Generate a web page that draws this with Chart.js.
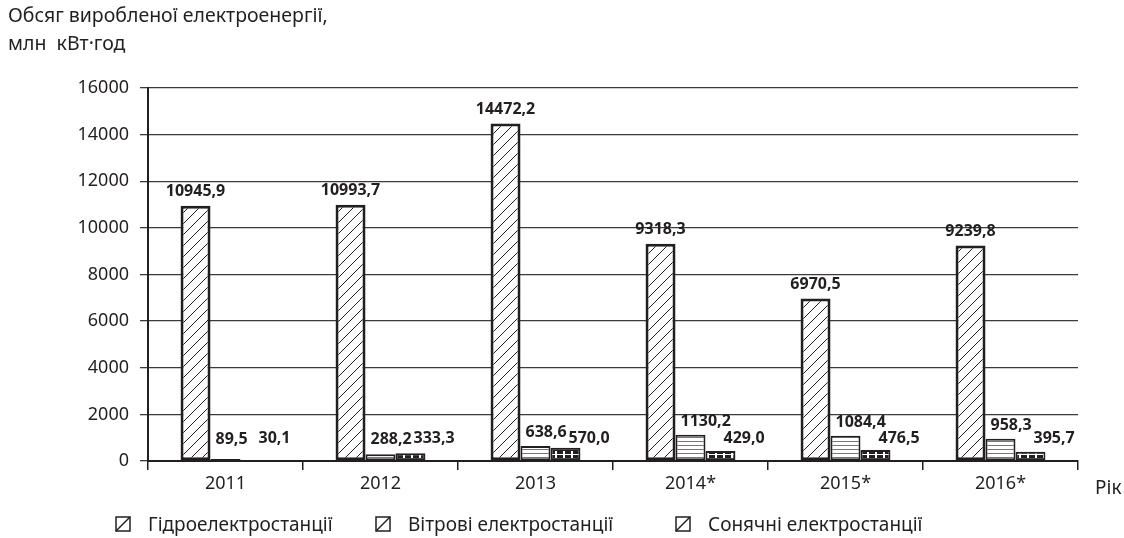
<!DOCTYPE html>
<html>
<head>
<meta charset="utf-8">
<script src="https://cdn.jsdelivr.net/npm/chart.js@4/dist/chart.umd.min.js"></script>
<style>
  body { margin: 0; background: #fff; }
  canvas { display: block; }
</style>
</head>
<body>
<canvas id="energyChart" width="1124" height="538"></canvas>
<script>
// values
var years = ['2011', '2012', '2013', '2014*', '2015*', '2016*'];
var hydro = [10945.9, 10993.7, 14472.2, 9318.3, 6970.5, 9239.8];
var wind = [89.5, 288.2, 638.6, 1130.2, 1084.4, 958.3];
var solar = [30.1, 333.3, 570.0, 429.0, 476.5, 395.7];
var seriesNames = ['Гідроелектростанції', 'Вітрові електростанції', 'Сонячні електростанції'];
var titleLines = ['Обсяг виробленої електроенергії,', 'млн  кВт·год'];
var axisName = 'Рік';

var FONT = '"Noto Sans", sans-serif';
var INK = '#231f20';

function tile(w, h, paint) {
    var c = document.createElement('canvas');
    c.width = w; c.height = h;
    paint(c.getContext('2d'));
    return document.createElement('canvas').getContext('2d').createPattern(c, 'repeat');
}

// diagonal hatch
var hatchFill = tile(11, 11, function (g) {
    g.fillStyle = '#fff'; g.fillRect(0, 0, 11, 11);
    g.strokeStyle = INK; g.lineWidth = 1;
    g.beginPath();
    g.moveTo(-1, 12); g.lineTo(12, -1);
    g.moveTo(-1, 1); g.lineTo(1, -1);
    g.moveTo(10, 12); g.lineTo(12, 10);
    g.stroke();
});

// horizontal lines
var stripeFill = tile(4, 4, function (g) {
    g.fillStyle = '#fff'; g.fillRect(0, 0, 4, 4);
    g.fillStyle = '#777'; g.fillRect(0, 1, 4, 1);
});

// black with white crosses
var crossFill = tile(8, 14, function (g) {
    g.fillStyle = INK; g.fillRect(0, 0, 8, 14);
    g.fillStyle = '#fff';
    g.fillRect(0, 6, 8, 1);
    g.fillRect(3, 3, 2, 7);
});

function fmt(v) {
    return v.toFixed(1).replace('.', ',');
}

var valueLabels = {
    id: 'valueLabels',
    afterDatasetsDraw: function (chart) {
        var ctx = chart.ctx;
        ctx.save();
        ctx.font = 'bold 16px ' + FONT;
        ctx.fillStyle = INK;
        ctx.textBaseline = 'alphabetic';
        chart.data.datasets.forEach(function (ds, di) {
            chart.getDatasetMeta(di).data.forEach(function (bar, i) {
                var txt = fmt(ds.data[i]);
                var left = bar.x - bar.width / 2;
                if (di === 0) {
                    ctx.textAlign = 'center';
                    ctx.fillText(txt, bar.x, bar.y - 10);
                } else if (di === 1) {
                    ctx.textAlign = 'left';
                    ctx.fillText(txt, left + 5, Math.min(bar.y - 9, bar.base - 16));
                } else {
                    ctx.textAlign = 'left';
                    ctx.fillText(txt, left + 18, Math.min(bar.y - 4, bar.base - 17));
                }
            });
        });
        ctx.restore();
    }
};

var extraText = {
    id: 'extraText',
    afterDraw: function (chart) {
        var ctx = chart.ctx;
        ctx.save();
        ctx.fillStyle = INK;
        ctx.font = '19.5px ' + FONT;
        ctx.textAlign = 'left';
        ctx.textBaseline = 'alphabetic';
        ctx.fillText(titleLines[0], 8, 22);
        ctx.fillText(titleLines[1], 8, 50);
        ctx.font = '19px ' + FONT;
        ctx.fillText(axisName, 1095, 494);

        // legend
        var iconX = [116, 376, 676];
        for (var k = 0; k < seriesNames.length; k++) {
            var x = iconX[k], y = 517;
            ctx.fillStyle = '#fff';
            ctx.fillRect(x, y, 14, 14);
            ctx.strokeStyle = INK;
            ctx.lineWidth = 1.5;
            ctx.strokeRect(x, y, 14, 14);
            ctx.beginPath();
            ctx.moveTo(x, y + 14);
            ctx.lineTo(x + 14, y);
            ctx.stroke();
            ctx.fillStyle = INK;
            ctx.fillText(seriesNames[k], x + 32, 531);
        }
        ctx.restore();
    }
};

new Chart(document.getElementById('energyChart'), {
    type: 'bar',
    data: {
        labels: years,
        datasets: [
            { label: seriesNames[0], data: hydro, backgroundColor: hatchFill, borderColor: INK, borderWidth: 3 },
            { label: seriesNames[1], data: wind, backgroundColor: stripeFill, borderColor: INK, borderWidth: 2 },
            { label: seriesNames[2], data: solar, backgroundColor: crossFill, borderColor: INK, borderWidth: 2 }
        ]
    },
    options: {
        responsive: false,
        animation: false,
        layout: { padding: { top: 88, right: 46, left: 0, bottom: 0 } },
        datasets: {
            bar: { categoryPercentage: 0.58, barPercentage: 1, borderSkipped: false }
        },
        plugins: {
            legend: { display: false },
            tooltip: { enabled: false }
        },
        scales: {
            x: {
                afterFit: function (s) { s.height = 77; },
                grid: { offset: true, drawOnChartArea: false, tickLength: 9, color: INK, lineWidth: 1.5 },
                border: { color: INK, width: 2 },
                ticks: { color: INK, font: { family: FONT, size: 18 }, padding: 3 }
            },
            y: {
                min: 0,
                max: 16000,
                afterFit: function (s) { s.width = 148; },
                grid: { color: '#3a3a3a', lineWidth: 1.3, tickLength: 8 },
                border: { color: INK, width: 2 },
                ticks: {
                    stepSize: 2000,
                    color: INK,
                    font: { family: FONT, size: 18 },
                    padding: 11,
                    callback: function (v) { return String(v); }
                }
            }
        }
    },
    plugins: [valueLabels, extraText]
});
</script>
</body>
</html>
